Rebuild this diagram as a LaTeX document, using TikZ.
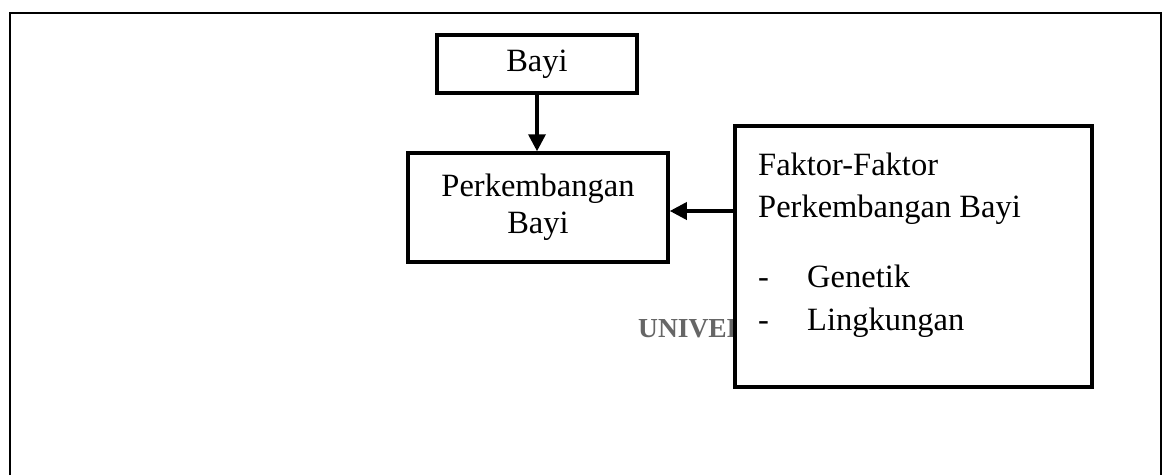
\documentclass[tikz,border=0pt]{standalone}
\usepackage{fontspec}
\setmainfont{Liberation Serif}
\usetikzlibrary{arrows.meta}
\definecolor{wmgray}{HTML}{666666}
\begin{document}
\begin{tikzpicture}[x=1pt,y=-1pt,
  box/.style={draw,line width=3.5pt,fill=white,inner sep=0pt,align=center,font=\fontsize{32.5}{37}\selectfont},
  conn/.style={line width=3.5pt,-{Triangle[length=17pt,width=17pt]}},
  txt/.style={inner sep=0pt,anchor=base west,font=\fontsize{32.5}{37}\selectfont},
  frame/.style={line width=2pt}]
\useasboundingbox (0,0) rectangle (1163,475);
\draw[frame] (10,475) -- (10,13) -- (1161,13) -- (1161,475);
\node[inner sep=0pt,anchor=base west,text=wmgray,font=\fontsize{27.5}{32}\selectfont\bfseries] (wm) at (638,337) {UNIVER};
\node[box,minimum width=200pt,minimum height=58pt] (bayi) at (537,64) {Bayi};
\node[box,minimum width=260pt,minimum height=109pt] (perk) at (538,207.5) {Perkembangan\\Bayi};
\node[box,minimum width=357pt,minimum height=261pt] (fak) at (913.5,256.5) {};
\node[txt] (t1) at (758,175) {Faktor-Faktor};
\node[txt] (t2) at (758,217) {Perkembangan Bayi};
\node[txt] (d1) at (758,287) {-};
\node[txt] (g) at (807,287) {Genetik};
\node[txt] (d2) at (758,330) {-};
\node[txt] (l) at (807,330) {Lingkungan};
\draw[conn] (bayi.south) -- (bayi.south |- perk.north);
\draw[conn] (fak.west |- 0,211) -- (perk.east |- 0,211);
\end{tikzpicture}
\end{document}
